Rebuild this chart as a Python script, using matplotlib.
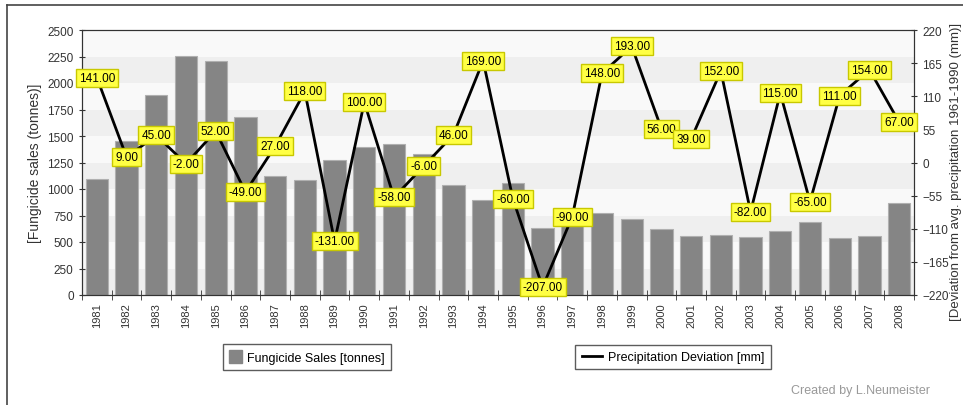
import matplotlib
matplotlib.use("Agg")
import matplotlib.pyplot as plt
from matplotlib.lines import Line2D
from matplotlib.patches import Patch
import numpy as np

plt.rcParams["font.family"] = ["Liberation Sans", "DejaVu Sans"]

years = list(range(1981, 2009))
sales = [1095, 1450, 1890, 2258, 2204, 1680, 1118, 1083, 1272, 1392, 1426, 1332,
         1036, 894, 1061, 630, 690, 771, 715, 620, 557, 570, 548, 608,
         690, 535, 557, 869]
precip = [141, 9, 45, -2, 52, -49, 27, 118, -131, 100, -58, -6,
          46, 169, -60, -207, -90, 148, 193, 56, 39, 152, -82, 115,
          -65, 111, 154, 67]

fig = plt.figure(figsize=(9.63, 4.06), dpi=100)
ax = fig.add_axes([82 / 963, 110 / 406, 832 / 963, 265 / 406])
x = np.arange(len(years))

# striped background, darker band at the bottom
for i, lo in enumerate(range(0, 2500, 250)):
    ax.axhspan(lo, lo + 250, color="#efefef" if i % 2 == 0 else "#f9f9f9", lw=0, zorder=0)

ax.bar(x, sales, width=0.75, color="#858585", edgecolor="#b0b0b0", lw=0.8, zorder=2)
ax.set_xlim(-0.5, len(years) - 0.5)
ax.set_ylim(0, 2500)
ax.set_yticks(range(0, 2501, 250))
ax.set_xticks(x)
ax.set_xticklabels([str(y) for y in years], rotation=90, fontsize=8, color="#333")
ax.set_xticks(np.arange(-0.5, len(years), 1), minor=True)
ax.tick_params(axis="x", which="major", length=0, pad=5)
ax.tick_params(axis="x", which="minor", length=7, direction="inout", color="#333")
ax.tick_params(axis="y", labelsize=8.5, colors="#333", length=5, direction="inout")
ax.set_ylabel("[Fungicide sales (tonnes)]", fontsize=10, color="#333", labelpad=4)
for s in ax.spines.values():
    s.set_color("#333")

ax2 = ax.twinx()
ax2.plot(x, precip, color="black", lw=2, zorder=3)
ax2.set_ylim(-220, 220)
ax2.set_yticks(range(-220, 221, 55))
ax2.tick_params(axis="y", labelsize=8.5, colors="#333", length=5, direction="inout")
ax2.set_ylabel("[Deviation from avg. precipitation 1961-1990 (mm)]", fontsize=9.5, color="#333",
               va="center", ha="center")
ax2.yaxis.set_label_coords((956 - 82) / 832, 0.47)
for s in ax2.spines.values():
    s.set_color("#333")
for xi, v in zip(x, precip):
    ax2.text(xi, v, f"{v:.2f}", ha="center", va="center", fontsize=8.5, zorder=4,
             bbox=dict(boxstyle="square,pad=0.25", fc="#ffff44", ec="#c8c800", lw=1))

fig.legend(handles=[Patch(fc="#858585", ec="#858585")], labels=["Fungicide Sales [tonnes]"],
           loc="center", bbox_to_anchor=(307 / 963, 1 - 358 / 406), frameon=True,
           fancybox=False, edgecolor="#333", fontsize=9, handlelength=1.0, handleheight=1.2,
           borderpad=0.5, handletextpad=0.4)
fig.legend(handles=[Line2D([], [], color="black", lw=2)], labels=["Precipitation Deviation [mm]"],
           loc="center", bbox_to_anchor=(673 / 963, 1 - 358 / 406), frameon=True,
           fancybox=False, edgecolor="#333", fontsize=9, handlelength=1.6,
           borderpad=0.5, handletextpad=0.5)

fig.text(930 / 963, 1 - 391 / 406, "Created by L.Neumeister", ha="right", va="center",
         fontsize=9, color="#999")

# outer frame (top and left edges)
fig.add_artist(Line2D([7 / 963, 1], [1 - 6 / 406] * 2, color="#444", lw=1.2))
fig.add_artist(Line2D([7 / 963] * 2, [0, 1 - 6 / 406], color="#444", lw=1.2))

fig.savefig("out.png", dpi=100)
